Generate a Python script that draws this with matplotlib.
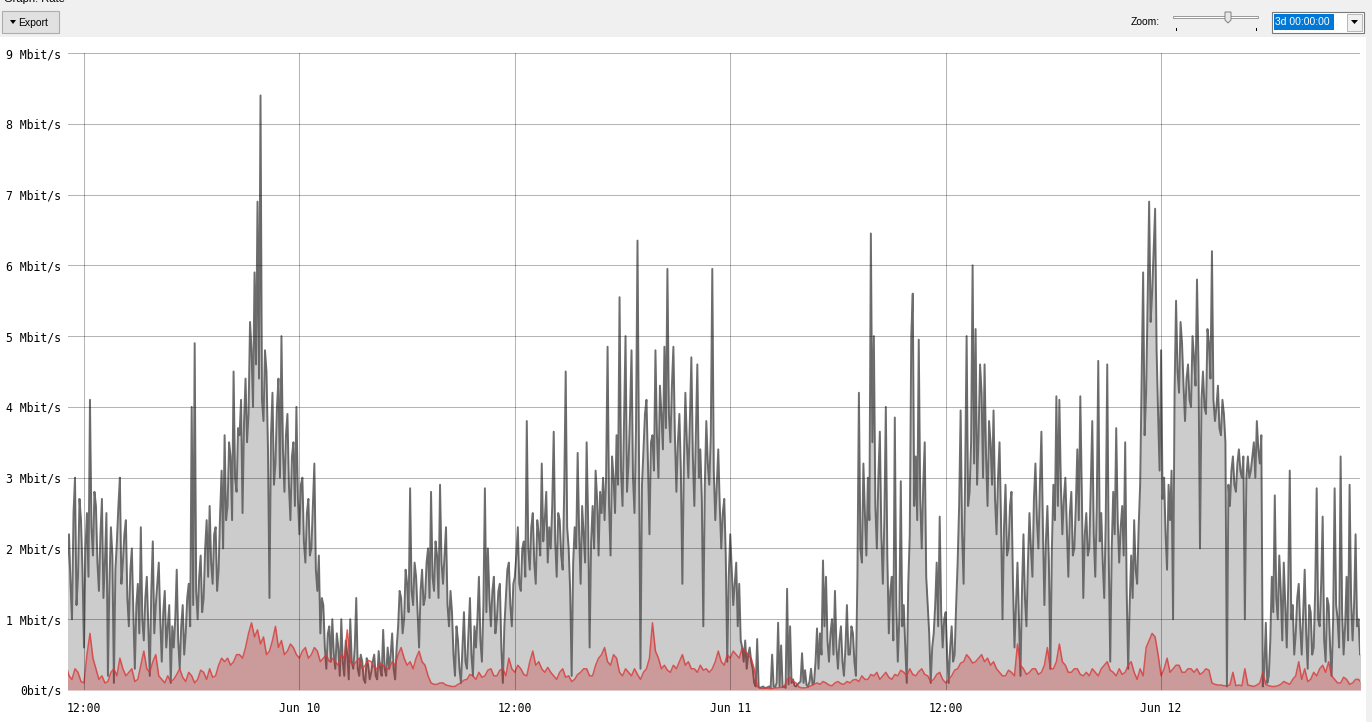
#!/usr/bin/env python3
"""
Traffic rate graph (3 days) - total vs. red series
"""

import matplotlib
matplotlib.use('Agg')
import matplotlib.pyplot as plt
from matplotlib.patches import Rectangle, Polygon

W, H = 1372, 722

# x values are hours since Jun 9 00:00
START_H = 11.0
GREY_STEP_H = 1 / 12  # 5 min samples
RED_STEP_H = 1 / 6    # 10 min samples
X_MIN, X_MAX = 11.11, 83.08

# grey series, Mbit/s, one row = 3 hours
total_rate = [
    1.3, 1.9, 2.2, 1.5, 1.0, 2.5, 3.0, 1.2, 1.6, 2.7, 2.4, 1.7, 0.6, 2.0, 2.5, 1.6, 4.1, 2.3,
    1.9, 2.8, 2.6, 1.8, 1.4, 2.2, 2.7, 1.3, 1.8, 2.5, 0.2, 1.5, 2.3, 1.9, 0.1, 1.7, 2.1, 2.6,
    3.0, 1.5, 1.8, 2.2, 2.4, 1.3, 0.9, 1.7, 2.0, 1.1, 0.3, 1.2, 1.5, 0.8, 2.3, 1.0, 0.7, 1.3,
    1.6, 0.9, 0.2, 1.4, 2.1, 0.8, 1.2, 1.5, 1.8, 1.0, 0.4, 1.1, 1.4, 0.6, 0.9, 1.2, 0.1, 0.9,
    0.6, 1.0, 1.7, 0.7, 0.3, 0.9, 1.2, 0.5, 0.8, 1.3, 1.5, 0.9, 4.0, 1.2, 4.9, 1.4, 1.0, 1.6,
    1.9, 1.1, 1.3, 2.0, 2.4, 1.6, 2.6, 1.8, 1.5, 2.2, 2.3, 1.4, 1.7, 2.5, 3.1, 2.0, 3.6, 2.4,
    2.6, 3.5, 3.3, 2.4, 4.5, 3.0, 2.8, 3.7, 3.6, 4.1, 2.5, 3.8, 4.4, 3.5, 3.9, 5.2, 4.8, 4.0,
    5.9, 4.6, 6.9, 4.4, 8.4, 4.1, 3.8, 4.8, 4.5, 3.4, 1.3, 3.6, 4.2, 2.9, 3.2, 4.0, 4.4, 3.0,
    5.0, 3.4, 2.8, 3.6, 3.9, 2.9, 2.4, 3.3, 3.5, 2.6, 4.0, 2.7, 2.2, 2.9, 3.0, 2.1, 1.8, 2.5,
    2.7, 1.9, 2.0, 2.6, 3.2, 1.7, 1.4, 1.9, 0.8, 1.3, 1.2, 0.6, 0.3, 0.8, 0.9, 0.4, 1.0, 0.5,
    0.3, 0.8, 0.6, 0.2, 1.0, 0.4, 0.2, 0.7, 0.5, 0.15, 1.0, 0.4, 0.3, 0.6, 1.3, 0.3, 0.2, 0.5,
    0.4, 0.15, 0.1, 0.45, 0.35, 0.15, 0.25, 0.4, 0.5, 0.2, 0.15, 0.55, 0.3, 0.2, 0.85, 0.3, 0.2, 0.6,
    0.3, 0.5, 0.8, 0.3, 0.15, 0.6, 0.9, 1.4, 1.3, 0.8, 1.0, 1.7, 1.5, 1.1, 2.85, 1.4, 1.2, 1.8,
    1.6, 1.1, 0.6, 1.4, 1.7, 1.2, 1.3, 1.8, 2.0, 1.3, 2.8, 1.6, 1.4, 2.1, 1.9, 1.3, 2.9, 1.8,
    1.5, 1.9, 2.3, 1.2, 0.9, 1.4, 1.1, 0.5, 0.2, 0.9, 0.7, 0.3, 0.1, 0.6, 1.1, 0.4, 0.3, 0.8,
    1.3, 0.5, 0.2, 0.9, 0.6, 1.0, 1.6, 0.7, 0.4, 1.2, 2.85, 1.1, 2.0, 1.3, 0.9, 1.4, 1.6, 0.8,
    # Jun 10 11:00
    1.0, 1.4, 1.5, 0.6, 0.1, 0.9, 1.3, 1.7, 1.8, 1.2, 0.9, 1.5, 1.6, 1.9, 2.3, 1.5, 1.4, 2.0,
    2.1, 1.6, 3.8, 2.0, 1.7, 2.3, 2.5, 1.8, 1.5, 2.4, 2.2, 1.9, 3.2, 2.1, 2.4, 2.8, 1.8, 2.3,
    2.0, 2.6, 3.65, 2.1, 1.6, 2.5, 2.4, 1.9, 1.7, 2.8, 4.5, 2.3, 2.0, 1.4, 0.2, 1.8, 2.3, 2.0,
    3.35, 2.2, 1.5, 2.6, 2.2, 1.8, 3.5, 2.4, 0.6, 2.1, 2.6, 2.0, 3.1, 2.7, 1.9, 2.8, 2.5, 3.0,
    2.4, 3.0, 4.85, 2.6, 1.9, 3.3, 3.0, 2.5, 3.6, 2.9, 5.55, 3.1, 2.6, 3.8, 5.0, 2.8, 3.2, 3.9,
    4.8, 3.0, 2.5, 3.7, 6.35, 3.3, 0.3, 2.9, 3.4, 3.9, 4.1, 3.2, 2.2, 3.5, 3.6, 3.1, 4.8, 3.6,
    3.0, 4.3, 3.9, 3.4, 4.85, 3.7, 5.95, 3.9, 3.5, 4.3, 4.85, 3.6, 2.8, 3.5, 3.9, 3.1, 1.5, 3.2,
    4.2, 3.5, 3.0, 3.8, 4.7, 3.3, 2.6, 3.6, 4.6, 3.0, 3.4, 2.7, 0.9, 2.9, 3.8, 3.2, 2.9, 3.6,
    5.95, 3.1, 2.4, 2.9, 3.4, 2.6, 2.0, 2.5, 2.7, 1.9, 0.4, 1.6, 2.2, 1.7, 1.2, 1.5, 1.8, 0.9,
    1.5, 0.7, 0.6, 0.4, 0.7, 0.3, 0.5, 0.6, 0.4, 0.3, 0.1, 0.05, 0.72, 0.04, 0.03, 0.04, 0.05, 0.03,
    0.03, 0.04, 0.05, 0.03, 0.5, 0.05, 0.04, 0.1, 0.95, 0.05, 0.63, 0.04, 0.05, 0.03, 1.43, 0.08, 0.9, 0.1,
    0.15, 0.06, 0.05, 0.08, 0.1, 0.12, 0.52, 0.1, 0.28, 0.07, 0.05, 0.12, 0.3, 0.08, 0.1, 0.4, 0.87, 0.3,
    0.8, 0.5, 1.83, 0.9, 1.6, 0.7, 0.4, 0.8, 1.0, 0.5, 1.4, 0.6, 0.3, 0.7, 0.9, 0.4, 0.2, 0.6,
    1.2, 0.5, 0.5, 0.9, 0.8, 0.4, 0.2, 1.6, 4.2, 2.0, 1.8, 3.2, 2.5, 1.9, 3.0, 2.4, 6.45, 3.5,
    5.0, 2.6, 2.0, 3.0, 3.65, 2.2, 1.5, 2.4, 4.0, 1.9, 0.8, 1.4, 1.6, 0.7, 3.85, 1.2, 0.4, 1.0,
    2.95, 0.9, 1.2, 0.6, 0.1, 1.5, 2.2, 5.0, 5.6, 2.6, 3.3, 2.4, 4.95, 2.7, 2.0, 2.9, 3.5, 1.6,
    # Jun 11 11:00
    1.2, 0.8, 0.1, 0.6, 0.8, 1.2, 1.8, 0.9, 2.45, 1.1, 0.6, 1.0, 1.1, 0.5, 0.1, 0.6, 0.9, 0.4,
    0.5, 1.2, 1.8, 2.6, 3.95, 2.2, 1.5, 3.0, 5.0, 2.6, 2.8, 3.5, 6.0, 3.2, 5.1, 2.9, 3.6, 4.6,
    4.2, 3.0, 4.6, 3.3, 2.6, 3.8, 3.5, 2.9, 3.95, 2.7, 2.2, 3.0, 3.5, 2.4, 1.0, 2.3, 2.9, 1.9,
    2.0, 2.6, 2.8, 1.5, 0.6, 1.2, 1.8, 1.0, 0.2, 1.4, 2.2, 1.3, 0.9, 1.8, 2.5, 2.0, 1.6, 2.7,
    3.2, 2.4, 2.0, 2.9, 3.65, 2.3, 1.2, 2.1, 2.6, 1.8, 0.3, 2.0, 2.9, 2.4, 4.15, 2.6, 4.1, 2.9,
    2.2, 2.7, 3.0, 2.3, 1.6, 2.5, 2.8, 1.9, 2.0, 2.6, 3.4, 2.4, 4.15, 2.8, 1.3, 2.2, 2.5, 1.9,
    2.0, 2.9, 3.8, 2.2, 1.6, 2.6, 4.65, 2.1, 2.5, 1.8, 1.3, 2.4, 4.6, 1.9, 0.4, 2.0, 2.8, 2.2,
    3.7, 2.4, 1.8, 2.3, 2.6, 1.9, 3.5, 1.4, 0.3, 1.2, 1.9, 1.3, 2.4, 1.7, 1.5, 2.3, 2.9, 4.4,
    5.9, 3.6, 4.2, 5.5, 6.9, 5.2, 5.6, 6.2, 6.8, 4.8, 3.9, 3.1, 4.8, 2.7, 3.0, 2.2, 1.7, 2.9,
    2.4, 3.1, 1.0, 4.2, 5.5, 4.5, 4.2, 5.2, 4.9, 4.3, 3.8, 4.4, 4.6, 4.1, 4.0, 5.0, 4.7, 4.3,
    5.8, 4.6, 2.0, 4.1, 4.5, 4.0, 3.9, 5.1, 4.9, 4.4, 6.2, 4.1, 3.8, 4.0, 4.3, 3.7, 3.6, 4.1,
    3.9, 3.5, 0.05, 2.9, 2.6, 3.1, 3.3, 2.9, 2.8, 3.2, 3.4, 3.1, 3.0, 3.3, 1.0, 3.0, 3.3, 3.0,
    3.1, 3.3, 3.5, 3.0, 3.8, 3.4, 3.2, 3.6, 0.05, 0.3, 0.95, 0.1, 0.2, 0.7, 1.6, 1.1, 2.75, 1.3,
    1.0, 1.9, 1.4, 0.7, 1.8, 1.2, 0.6, 1.5, 3.1, 1.0, 1.2, 0.5, 0.8, 1.3, 1.5, 0.9, 0.5, 1.1,
    1.7, 0.8, 0.3, 1.2, 1.1, 0.5, 0.6, 1.4, 2.85, 1.0, 0.9, 1.5, 2.45, 0.7, 0.4, 1.3, 1.2, 0.6,
    0.2, 1.0, 2.85, 1.2, 1.0, 0.6, 3.3, 1.1, 0.5, 0.9, 1.6, 0.7, 2.9, 1.3, 0.7, 1.2, 2.2, 0.9,
    1.0, 0.5, 0.6, 0.9,
]

# red series, Mbit/s, one row = 3 hours
red_rate = [
    0.35, 0.2, 0.15, 0.3, 0.25, 0.12, 0.1, 0.5, 0.8, 0.45, 0.3, 0.15, 0.2, 0.1, 0.12, 0.25, 0.3, 0.2,
    0.45, 0.3, 0.2, 0.25, 0.3, 0.12, 0.15, 0.35, 0.55, 0.3, 0.25, 0.4, 0.5, 0.2, 0.15, 0.1, 0.2, 0.12,
    0.15, 0.22, 0.3, 0.18, 0.12, 0.25, 0.2, 0.1, 0.15, 0.28, 0.25, 0.15, 0.3, 0.18, 0.2, 0.35, 0.45, 0.4,
    0.45, 0.35, 0.4, 0.5, 0.5, 0.45, 0.6, 0.8, 0.95, 0.75, 0.85, 0.65, 0.75, 0.5, 0.55, 0.7, 0.9, 0.6,
    0.7, 0.5, 0.55, 0.65, 0.6, 0.5, 0.45, 0.55, 0.6, 0.45, 0.5, 0.6, 0.55, 0.4, 0.45, 0.5, 0.4, 0.45,
    0.4, 0.35, 0.5, 0.45, 0.85, 0.4, 0.35, 0.4, 0.45, 0.3, 0.35, 0.42, 0.4, 0.32, 0.3, 0.38, 0.35, 0.3,
    0.3, 0.4, 0.35, 0.5, 0.6, 0.45, 0.35, 0.4, 0.3, 0.45, 0.55, 0.4, 0.35, 0.2, 0.1, 0.08, 0.08, 0.1,
    0.1, 0.07, 0.06, 0.05, 0.05, 0.08, 0.1, 0.14, 0.15, 0.22, 0.2, 0.15, 0.25, 0.18, 0.2, 0.28, 0.3, 0.2,
    # Jun 10 11:00
    0.2, 0.28, 0.3, 0.2, 0.45, 0.3, 0.25, 0.35, 0.3, 0.22, 0.2, 0.4, 0.55, 0.35, 0.4, 0.3, 0.25, 0.32,
    0.25, 0.2, 0.15, 0.25, 0.3, 0.18, 0.2, 0.12, 0.15, 0.22, 0.25, 0.3, 0.3, 0.2, 0.2, 0.35, 0.45, 0.5,
    0.6, 0.4, 0.35, 0.5, 0.45, 0.25, 0.2, 0.3, 0.25, 0.2, 0.3, 0.22, 0.15, 0.25, 0.3, 0.45, 0.95, 0.55,
    0.45, 0.3, 0.35, 0.28, 0.25, 0.35, 0.3, 0.4, 0.5, 0.35, 0.4, 0.3, 0.3, 0.25, 0.35, 0.28, 0.3, 0.25,
    0.3, 0.4, 0.55, 0.4, 0.35, 0.5, 0.45, 0.55, 0.5, 0.45, 0.6, 0.55, 0.5, 0.45, 0.3, 0.05, 0.03, 0.02,
    0.03, 0.02, 0.02, 0.03, 0.03, 0.04, 0.04, 0.15, 0.18, 0.12, 0.1, 0.04, 0.03, 0.03, 0.04, 0.06, 0.08, 0.1,
    0.08, 0.12, 0.1, 0.07, 0.06, 0.1, 0.12, 0.09, 0.08, 0.12, 0.1, 0.14, 0.15, 0.12, 0.2, 0.15, 0.15, 0.22,
    0.2, 0.25, 0.15, 0.2, 0.25, 0.18, 0.15, 0.22, 0.2, 0.28, 0.25, 0.2, 0.3, 0.22, 0.2, 0.26, 0.3, 0.22,
    # Jun 11 11:00
    0.2, 0.12, 0.15, 0.22, 0.25, 0.15, 0.1, 0.15, 0.2, 0.28, 0.3, 0.38, 0.4, 0.5, 0.45, 0.38, 0.4, 0.45,
    0.5, 0.4, 0.45, 0.35, 0.4, 0.3, 0.25, 0.2, 0.2, 0.28, 0.25, 0.2, 0.65, 0.35, 0.3, 0.22, 0.25, 0.3,
    0.3, 0.22, 0.25, 0.35, 0.6, 0.3, 0.3, 0.4, 0.65, 0.4, 0.35, 0.25, 0.25, 0.3, 0.3, 0.22, 0.2, 0.25,
    0.2, 0.3, 0.25, 0.2, 0.3, 0.35, 0.4, 0.28, 0.25, 0.2, 0.3, 0.22, 0.25, 0.35, 0.4, 0.25, 0.15, 0.3,
    0.2, 0.6, 0.7, 0.8, 0.75, 0.5, 0.2, 0.3, 0.45, 0.25, 0.3, 0.35, 0.35, 0.25, 0.25, 0.3, 0.3, 0.25,
    0.3, 0.22, 0.25, 0.3, 0.28, 0.1, 0.08, 0.07, 0.07, 0.06, 0.06, 0.07, 0.25, 0.06, 0.07, 0.06, 0.3, 0.07,
    0.06, 0.05, 0.07, 0.1, 0.25, 0.08, 0.06, 0.05, 0.05, 0.06, 0.08, 0.12, 0.1, 0.08, 0.15, 0.2, 0.4, 0.15,
    0.3, 0.12, 0.15, 0.25, 0.2, 0.3, 0.35, 0.25, 0.4, 0.2, 0.15, 0.1, 0.1, 0.18, 0.15, 0.08, 0.1, 0.15,
    0.15, 0.1,
]

x_ticks = [12, 24, 36, 48, 60, 72]
x_tick_labels = ['12:00', 'Jun 10', '12:00', 'Jun 11', '12:00', 'Jun 12']
y_ticks = list(range(10))
y_tick_labels = ['0bit/s'] + [f'{v} Mbit/s' for v in range(1, 10)]


def fx(px):
    return px / W


def fy(py):
    return 1 - py / H


def draw_toolbar(fig):
    """Fake window chrome above the graph"""
    fig.add_artist(Rectangle((0, fy(37)), 1, 37 / H, transform=fig.transFigure,
                             facecolor='#f0f0f0', edgecolor='none', zorder=0))
    fig.add_artist(Rectangle((fx(1366), 0), 6 / W, fy(37), transform=fig.transFigure,
                             facecolor='#f0f0f0', edgecolor='none', zorder=0))
    fig.text(fx(4), fy(2), 'Graph: Rate', fontsize=8, family='Liberation Sans',
             va='baseline', ha='left', color='#000000')

    # Export button
    fig.add_artist(Rectangle((fx(2), fy(33)), 57 / W, 22 / H, transform=fig.transFigure,
                             facecolor='#e1e1e1', edgecolor='#adadad', linewidth=0.8))
    fig.add_artist(Polygon([(fx(10), fy(20)), (fx(16), fy(20)), (fx(13), fy(24))],
                           closed=True, transform=fig.transFigure, facecolor='black',
                           edgecolor='none'))
    fig.text(fx(18), fy(23), 'Export', fontsize=7.5, family='Liberation Sans',
             va='center', ha='left')

    # Zoom slider
    fig.text(fx(1160), fy(22), 'Zoom:', fontsize=7.5, family='Liberation Sans',
             va='center', ha='right')
    fig.add_artist(Rectangle((fx(1173), fy(18)), 85 / W, 2 / H, transform=fig.transFigure,
                             facecolor='#ffffff', edgecolor='#9a9a9a', linewidth=0.7))
    fig.add_artist(Polygon([(fx(1225), fy(12)), (fx(1231), fy(12)), (fx(1231), fy(20)),
                            (fx(1228), fy(23)), (fx(1225), fy(20))],
                           closed=True, transform=fig.transFigure, facecolor='#e8e8e8',
                           edgecolor='#808080', linewidth=0.7))
    for tx in (1176, 1256):
        fig.add_artist(Rectangle((fx(tx), fy(31)), 1 / W, 3 / H, transform=fig.transFigure,
                                 facecolor='black', edgecolor='none'))

    # Combo box
    fig.add_artist(Rectangle((fx(1272), fy(33)), 92 / W, 21 / H, transform=fig.transFigure,
                             facecolor='white', edgecolor='#7a7a7a', linewidth=0.8))
    fig.add_artist(Rectangle((fx(1274), fy(30)), 60 / W, 16 / H, transform=fig.transFigure,
                             facecolor='#0078d7', edgecolor='none'))
    fig.text(fx(1275), fy(22), '3d 00:00:00', fontsize=7.5, family='Liberation Sans',
             va='center', ha='left', color='white')
    fig.add_artist(Rectangle((fx(1347), fy(31)), 15 / W, 17 / H, transform=fig.transFigure,
                             facecolor='#f0f0f0', edgecolor='#adadad', linewidth=0.6))
    fig.add_artist(Polygon([(fx(1351), fy(20)), (fx(1358), fy(20)), (fx(1354.5), fy(24))],
                           closed=True, transform=fig.transFigure, facecolor='black',
                           edgecolor='none'))


def plot_rate():
    if len(total_rate) != 868 or len(red_rate) != 434:
        raise ValueError(f"bad lengths: {len(total_rate)} {len(red_rate)}")

    fig = plt.figure(figsize=(W / 100, H / 100), dpi=100, facecolor='white')
    ax = fig.add_axes([fx(68), fy(690), (1360 - 68) / W, (690 - 53) / H])

    xs_grey = [START_H + i * GREY_STEP_H for i in range(len(total_rate))]
    xs_red = [START_H + i * RED_STEP_H for i in range(len(red_rate))]

    ax.fill_between(xs_grey, 0, total_rate, color='#cccccc', linewidth=0, zorder=1)
    ax.plot(xs_grey, total_rate, color='#555555', linewidth=1.4, alpha=0.85, zorder=2)
    ax.fill_between(xs_red, 0, red_rate, color='#c80000', alpha=0.24, linewidth=0, zorder=2.1)
    ax.plot(xs_red, red_rate, color='#d83838', linewidth=1.1, alpha=0.8, zorder=2.2)

    ax.set_xlim(X_MIN, X_MAX)
    ax.set_ylim(0, 9)
    ax.set_xticks(x_ticks)
    ax.set_xticklabels(x_tick_labels)
    ax.set_yticks(y_ticks)
    ax.set_yticklabels(y_tick_labels)
    ax.tick_params(axis='both', length=0, labelsize=8.3, colors='black')
    ax.tick_params(axis='y', pad=5)
    ax.tick_params(axis='x', pad=9)
    for lab in ax.get_xticklabels() + ax.get_yticklabels():
        lab.set_family('DejaVu Sans Mono')

    for s in ax.spines.values():
        s.set_visible(False)
    ax.set_axisbelow(False)
    ax.grid(True, color='black', alpha=0.29, linewidth=0.75)
    ax.set_facecolor('white')

    draw_toolbar(fig)

    fig.savefig('out.png', dpi=100, facecolor='white')
    print("Saved: out.png")
    plt.close(fig)


def main():
    plot_rate()


if __name__ == '__main__':
    main()
